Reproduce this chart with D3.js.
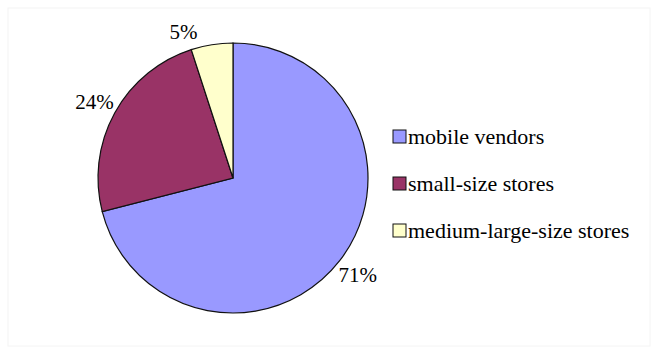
<!DOCTYPE html>
<html>
<head>
<meta charset="utf-8">
<script src="https://cdn.jsdelivr.net/npm/d3@7"></script>
</head>
<body style="margin:0">
<svg id="chart" width="658" height="356"></svg>
<script>
// chart data
const categories = ["mobile vendors", "small-size stores", "medium-large-size stores"];
const shares = [71, 24, 5];
const sliceColors = ["#9999ff", "#993366", "#ffffcc"];

const svg = d3.select("#chart");

// light frame round the chart area
svg.append("rect")
  .attr("x", 8).attr("y", 8)
  .attr("width", 642).attr("height", 338)
  .attr("fill", "none")
  .attr("stroke", "#f4f4f4");

const cx = 233, cy = 178, radius = 135;

const pie = d3.pie().sort(null).value(d => d)(shares);
const arc = d3.arc().innerRadius(0).outerRadius(radius);

svg.selectAll("path.slice")
  .data(pie)
  .join("path")
    .attr("class", "slice")
    .attr("transform", `translate(${cx},${cy})`)
    .attr("d", arc)
    .attr("fill", (d, i) => sliceColors[i])
    .attr("stroke", "#111")
    .attr("stroke-width", 1.2);

// percent labels just outside the pie
svg.selectAll("text.pct")
  .data(pie)
  .join("text")
    .attr("class", "pct")
    .attr("text-anchor", "middle")
    .attr("font-family", "Times New Roman")
    .attr("font-size", 21)
    .attr("x", d => {
      let a = (d.startAngle + d.endAngle) / 2, r = 158;
      // thin slices get pushed a bit sideways, as the office chart does
      if (d.endAngle - d.startAngle < 0.5) { a -= 0.17; r = 154; }
      return cx + r * Math.sin(a);
    })
    .attr("y", d => {
      let a = (d.startAngle + d.endAngle) / 2, r = 158;
      if (d.endAngle - d.startAngle < 0.5) { a -= 0.17; r = 154; }
      return cy - r * Math.cos(a) + 7;
    })
    .text(d => d.value + "%");

// legend
svg.selectAll("rect.key")
  .data(categories)
  .join("rect")
    .attr("class", "key")
    .attr("x", 393)
    .attr("y", (d, i) => 130 + i * 47)
    .attr("width", 13).attr("height", 13)
    .attr("fill", (d, i) => sliceColors[i])
    .attr("stroke", "#111")
    .attr("stroke-width", 1);

svg.selectAll("text.key")
  .data(categories)
  .join("text")
    .attr("class", "key")
    .attr("x", 408)
    .attr("y", (d, i) => 144 + i * 47)
    .attr("font-family", "Times New Roman")
    .attr("font-size", 22)
    .text(d => d);
</script>
</body>
</html>
